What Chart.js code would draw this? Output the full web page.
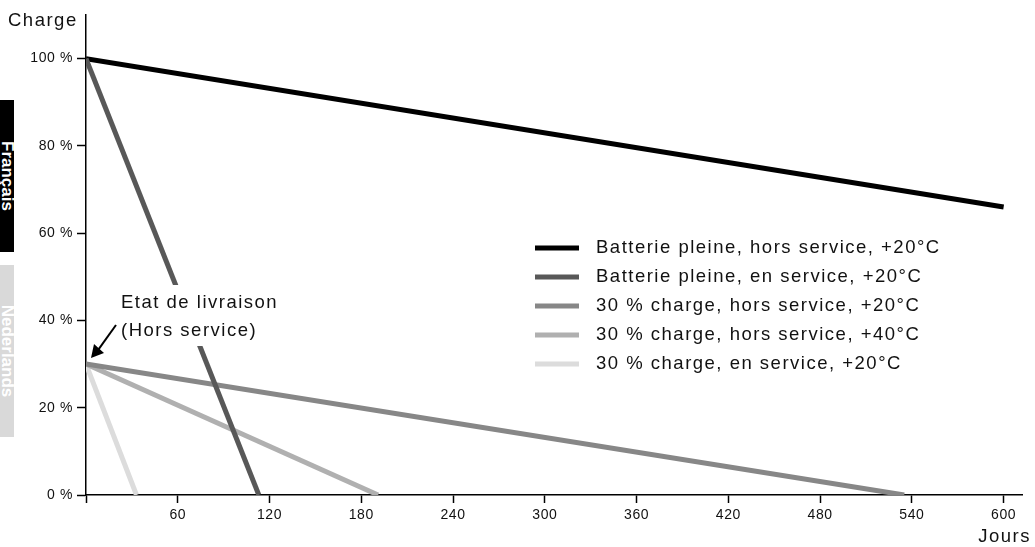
<!DOCTYPE html>
<html>
<head>
<meta charset="utf-8">
<script src="https://cdn.jsdelivr.net/npm/chart.js@4"></script>
<style>
  html, body { margin: 0; padding: 0; background: #fff; }
  #wrap { position: relative; width: 1035px; height: 547px; }
  .tab {
    position: absolute; left: 0; width: 14px;
    overflow: hidden;
  }
  .tab span {
    position: absolute; left: 50%; top: 50%;
    transform: translate(-50%, -50%) rotate(90deg);
    font: bold 17px "Liberation Sans", sans-serif;
    white-space: nowrap;
  }
</style>
</head>
<body>
<div id="wrap">
  <canvas id="batteryChart" width="1035" height="547"></canvas>
  <div class="tab" style="top:100px;height:152px;background:#000;color:#fff;"><span>Français</span></div>
  <div class="tab" style="top:265px;height:172px;background:#d9d9d9;color:#fff;"><span>Nederlands</span></div>
</div>
<script>
// Data for the chart (days, charge %)
const seriesLabels = [
    'Batterie pleine, hors service, +20°C',
    'Batterie pleine, en service, +20°C',
    '30 % charge, hors service, +20°C',
    '30 % charge, hors service, +40°C',
    '30 % charge, en service, +20°C'
];
const fullOffDays = [0, 600];
const fullOffCharge = [100, 66];
const fullOnDays = [0, 113];
const fullOnCharge = [100, 0];
const part20OffDays = [0, 535];
const part20OffCharge = [30, 0];
const part40OffDays = [0, 191];
const part40OffCharge = [30, 0];
const partOnDays = [0, 33];
const partOnCharge = [30, 0];
const xTicks = [60, 120, 180, 240, 300, 360, 420, 480, 540, 600];
const yTicks = [0, 20, 40, 60, 80, 100];

const seriesColors = ['#000000', '#585858', '#878787', '#b0b0b0', '#dcdcdc'];

function toPoints(xs, ys) {
    return xs.map((x, i) => ({ x: x, y: ys[i] }));
}

const allSeries = [
    toPoints(fullOffDays, fullOffCharge),
    toPoints(fullOnDays, fullOnCharge),
    toPoints(part20OffDays, part20OffCharge),
    toPoints(part40OffDays, part40OffCharge),
    toPoints(partOnDays, partOnCharge)
];

// dark line "en service" sits on top of the others
const datasets = allSeries.map((pts, i) => ({
    label: seriesLabels[i],
    data: pts,
    showLine: true,
    borderColor: seriesColors[i],
    backgroundColor: seriesColors[i],
    borderWidth: 5,
    pointRadius: 0,
    order: i === 1 ? -1 : i
}));

const fontFamily = '"Liberation Sans", Arial, sans-serif';
const bigFont = '18.5px ' + fontFamily;
const bigSpacing = '1.5px';

// letter spacing for the tick labels (the original font is wide)
const spacingPlugin = {
    id: 'spacing',
    beforeDraw(chart) { chart.ctx.letterSpacing = '0.6px'; }
};

// white box for the annotation, over the lines
const annotationPlugin = {
    id: 'annotation',
    afterDatasetsDraw(chart) {
        const c = chart.ctx;
        const xs = chart.scales.x, ys = chart.scales.y;
        const px = xs.getPixelForValue(0), py = ys.getPixelForValue(30);
        c.save();
        c.fillStyle = '#fff';
        c.fillRect(px + 32, 285, 172, 61);
        c.fillStyle = '#111';
        c.font = bigFont;
        c.letterSpacing = bigSpacing;
        c.textBaseline = 'middle';
        c.textAlign = 'left';
        c.fillText('Etat de livraison', px + 35, 303);
        c.fillText('(Hors service)', px + 35, 331);
        c.strokeStyle = '#000';
        c.lineWidth = 2;
        c.beginPath();
        c.moveTo(px + 30, 325);
        c.lineTo(px + 12, py - 14);
        c.stroke();
        c.fillStyle = '#000';
        c.beginPath();
        c.moveTo(px + 5, py - 6);
        c.lineTo(px + 8, py - 20);
        c.lineTo(px + 18, py - 11);
        c.closePath();
        c.fill();
        c.restore();
    }
};

// legend and axis titles drawn straight on the canvas
const extrasPlugin = {
    id: 'extras',
    afterDraw(chart) {
        const c = chart.ctx;
        c.save();
        c.font = bigFont;
        c.letterSpacing = bigSpacing;
        c.textBaseline = 'middle';

        seriesLabels.forEach((lab, i) => {
            const y = 248 + i * 29;
            c.fillStyle = seriesColors[i];
            c.fillRect(535, y - 2.5, 44, 5);
            c.fillStyle = '#111';
            c.textAlign = 'left';
            c.fillText(lab, 596, y);
        });

        c.textAlign = 'left';
        c.fillText('Charge', 8, 21);
        c.textAlign = 'right';
        c.fillText('Jours', 1031, 537);
        c.restore();
    }
};

const ctx = document.getElementById('batteryChart').getContext('2d');

const batteryChart = new Chart(ctx, {
    type: 'scatter',
    data: { datasets: datasets },
    options: {
        responsive: false,
        animation: false,
        layout: { padding: { top: 15, right: 13, left: 0, bottom: 0 } },
        scales: {
            x: {
                type: 'linear',
                min: 0,
                max: 612,
                afterBuildTicks: (s) => { s.ticks = [{ value: 0 }].concat(xTicks.map(v => ({ value: v }))); },
                afterFit: (s) => { s.height = 52; },
                ticks: {
                    color: '#111',
                    font: { family: fontFamily, size: 14 },
                    padding: 4,
                    maxRotation: 0,
                    callback: (v) => v === 0 ? '' : v
                },
                grid: { drawOnChartArea: false, color: '#000', tickLength: 8, tickWidth: 1.5 },
                border: { color: '#000', width: 1.5 }
            },
            y: {
                min: 0,
                max: 110,
                afterBuildTicks: (s) => { s.ticks = yTicks.map(v => ({ value: v })); },
                afterFit: (s) => { s.width = 86; },
                ticks: {
                    color: '#111',
                    font: { family: fontFamily, size: 14 },
                    padding: 4,
                    callback: (v) => v + ' %'
                },
                grid: { drawOnChartArea: false, color: '#000', tickLength: 9, tickWidth: 1.5 },
                border: { color: '#000', width: 1.5 }
            }
        },
        plugins: {
            legend: { display: false },
            tooltip: { enabled: false }
        }
    },
    plugins: [spacingPlugin, annotationPlugin, extrasPlugin]
});
</script>
</body>
</html>
